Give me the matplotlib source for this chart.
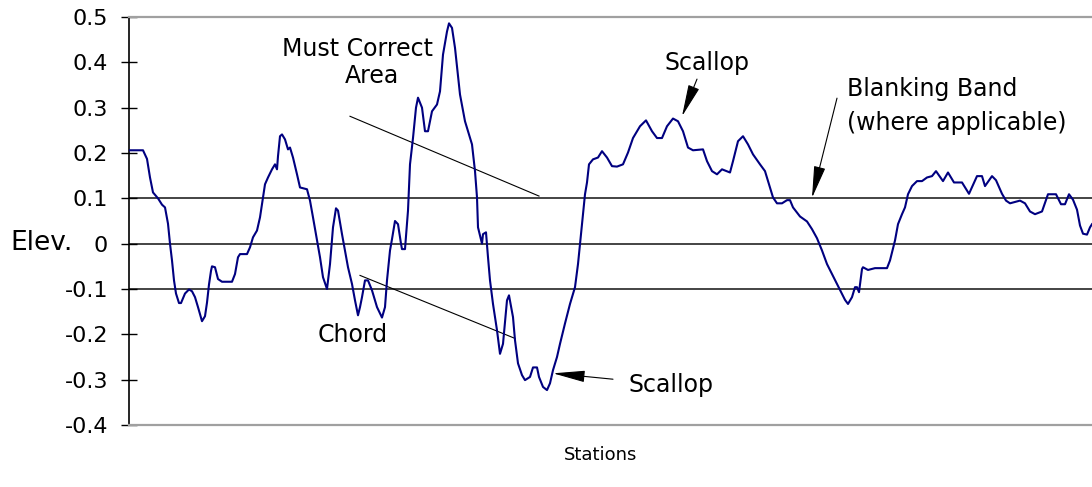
import matplotlib
matplotlib.use("Agg")
import matplotlib.pyplot as plt

plt.rcParams["font.family"] = ["DejaVu Sans"]
plt.rcParams["axes.unicode_minus"] = False

# station offsets along the track and measured elevation
stations = [0, 14, 18, 21, 24, 29, 33, 36, 39, 41, 43, 45, 47, 50, 52, 56, 60, 63, 66, 69,
            73, 76, 78, 80, 82, 83, 86, 89, 93, 103, 106, 109, 111, 118, 121, 124, 128, 131,
            134, 136, 139, 143, 146, 148, 149, 151, 153, 156, 159, 161, 164, 168, 171, 178,
            181, 184, 188, 191, 194, 198, 201, 204, 207, 209, 213, 216, 219, 223, 226, 229,
            231, 233, 236, 239, 243, 248, 253, 256, 258, 261, 263, 266, 269, 272, 273, 276,
            279, 281, 284, 287, 289, 293, 296, 299, 303, 308, 311, 314, 318, 320, 323, 326,
            331, 336, 343, 346, 348, 349, 353, 354, 357, 359, 361, 364, 368, 371, 374, 378,
            380, 384, 386, 389, 393, 396, 401, 404, 408, 410, 414, 418, 421, 424, 428, 431,
            436, 441, 446, 449, 451, 454, 456, 458, 460, 464, 469, 473, 478, 483, 488, 494,
            499, 504, 511, 517, 523, 528, 533, 538, 544, 549, 554, 559, 564, 574, 578, 583,
            588, 593, 601, 604, 609, 614, 619, 624, 631, 636, 639, 644, 648, 653, 658, 661,
            664, 671, 678, 683, 688, 693, 698, 703, 708, 713, 716, 719, 723, 726, 728, 730,
            733, 734, 739, 746, 758, 761, 766, 769, 773, 776, 779, 783, 788, 793, 798, 803,
            807, 814, 819, 825, 833, 840, 848, 853, 856, 863, 867, 873, 877, 881, 891, 896,
            901, 906, 913, 919, 927, 932, 936, 940, 944, 948, 951, 954, 958, 961, 963]
elevation = [0.206, 0.206, 0.187, 0.146, 0.113, 0.100, 0.086, 0.080, 0.044, 0.000, -0.037,
             -0.081, -0.110, -0.131, -0.131, -0.110, -0.101, -0.105, -0.118, -0.140, -0.171,
             -0.160, -0.130, -0.090, -0.060, -0.050, -0.052, -0.078, -0.084, -0.084, -0.067,
             -0.030, -0.023, -0.023, -0.008, 0.014, 0.029, 0.058, 0.102, 0.131, 0.146, 0.164,
             0.175, 0.164, 0.193, 0.237, 0.241, 0.230, 0.208, 0.212, 0.190, 0.153, 0.124,
             0.120, 0.095, 0.058, 0.007, -0.030, -0.074, -0.100, -0.045, 0.036, 0.078, 0.073,
             0.021, -0.015, -0.052, -0.089, -0.125, -0.158, -0.140, -0.118, -0.081, -0.081,
             -0.103, -0.140, -0.163, -0.140, -0.081, -0.015, 0.010, 0.050, 0.043, 0.000,
             -0.012, -0.012, 0.073, 0.175, 0.233, 0.300, 0.322, 0.300, 0.248, 0.248, 0.292,
             0.307, 0.336, 0.417, 0.468, 0.486, 0.476, 0.432, 0.329, 0.270, 0.219, 0.160,
             0.102, 0.036, 0.000, 0.021, 0.025, -0.030, -0.081, -0.133, -0.191, -0.243,
             -0.221, -0.125, -0.114, -0.162, -0.213, -0.264, -0.290, -0.301, -0.294, -0.273,
             -0.273, -0.294, -0.316, -0.323, -0.308, -0.279, -0.250, -0.221, -0.176, -0.133,
             -0.096, -0.045, -0.001, 0.065, 0.109, 0.135, 0.175, 0.186, 0.190, 0.204, 0.190,
             0.171, 0.170, 0.175, 0.201, 0.233, 0.259, 0.272, 0.248, 0.233, 0.233, 0.259,
             0.276, 0.270, 0.248, 0.212, 0.206, 0.208, 0.182, 0.160, 0.153, 0.164, 0.157,
             0.182, 0.226, 0.237, 0.219, 0.197, 0.175, 0.160, 0.138, 0.102, 0.089, 0.089,
             0.096, 0.096, 0.080, 0.060, 0.049, 0.032, 0.012, -0.015, -0.045, -0.067, -0.089,
             -0.111, -0.124, -0.133, -0.118, -0.096, -0.096, -0.107, -0.056, -0.052, -0.058,
             -0.054, -0.054, -0.037, 0.007, 0.043, 0.065, 0.080, 0.109, 0.127, 0.138, 0.138,
             0.146, 0.149, 0.160, 0.138, 0.157, 0.135, 0.135, 0.110, 0.149, 0.149, 0.127,
             0.149, 0.140, 0.110, 0.095, 0.089, 0.095, 0.089, 0.071, 0.065, 0.071, 0.109,
             0.109, 0.087, 0.087, 0.109, 0.097, 0.075, 0.040, 0.022, 0.020, 0.036, 0.043]

band_levels = [0.1, 0.0, -0.1]
y_ticks = [0.5, 0.4, 0.3, 0.2, 0.1, 0.0, -0.1, -0.2, -0.3, -0.4]
y_labels = ["0.5", "0.4", "0.3", "0.2", "0.1", "0", "-0.1", "-0.2", "-0.3", "-0.4"]

fig = plt.figure(figsize=(10.92, 4.87), dpi=100)
ax = fig.add_axes([129 / 1092, 62 / 487, 1 - 129 / 1092, 408 / 487])

for lvl in band_levels:
    ax.axhline(lvl, color="#111111", lw=1.1, zorder=1)

ax.plot(stations, elevation, color="#000080", lw=1.5, zorder=3)

ax.set_xlim(0, 963)
ax.set_ylim(-0.4, 0.5)
ax.set_xticks([])
ax.set_yticks(y_ticks)
ax.set_yticklabels(y_labels, fontsize=16)
ax.tick_params(axis="y", direction="inout", length=12, width=1, pad=9)

ax.spines["right"].set_visible(False)
ax.spines["left"].set_color("black")
ax.spines["left"].set_linewidth(1.2)
for s in ("top", "bottom"):
    ax.spines[s].set_color("#a0a0a0")
    ax.spines[s].set_linewidth(1.6)

# annotations
txt = dict(fontsize=17, color="black", va="center")
ax.text(228, 0.429, "Must Correct", ha="center", **txt)
ax.text(243, 0.369, "Area", ha="center", **txt)
ax.plot([221, 410], [0.281, 0.105], color="black", lw=0.8)

ax.text(224, -0.202, "Chord", ha="center", **txt)
ax.plot([231, 386], [-0.070, -0.209], color="black", lw=0.8)

arrow = dict(arrowstyle="-|>,head_length=1.0,head_width=0.18", color="black",
             lw=0.8, mutation_scale=20, shrinkA=0, shrinkB=0)
ax.text(542, -0.312, "Scallop", ha="center", **txt)
ax.annotate("", xy=(424, -0.286), xytext=(484, -0.299), arrowprops=arrow)

ax.text(578, 0.398, "Scallop", ha="center", **txt)
ax.annotate("", xy=(553, 0.281), xytext=(568, 0.363), arrowprops=arrow)

ax.text(718, 0.341, "Blanking Band", ha="left", **txt)
ax.text(718, 0.266, "(where applicable)", ha="left", **txt)
ax.annotate("", xy=(683, 0.101), xytext=(708, 0.321), arrowprops=arrow)

fig.text(10 / 1092, 1 - 243 / 487, "Elev.", fontsize=19, ha="left", va="center")
fig.text(601 / 1092, 1 - 455 / 487, "Stations", fontsize=13, ha="center", va="center")

fig.savefig("out.png", dpi=100, facecolor="white")
